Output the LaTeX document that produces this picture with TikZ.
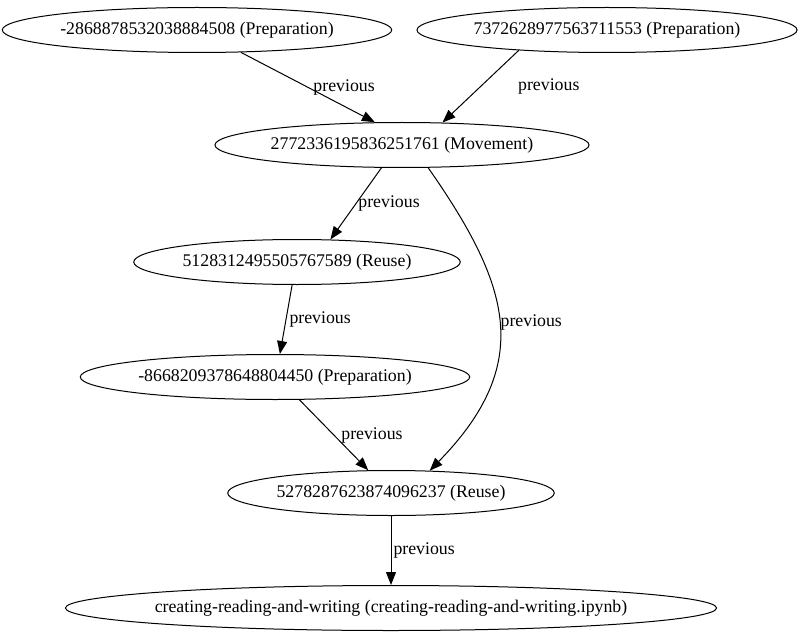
\documentclass[tikz,border=0pt]{standalone}
\usepackage{fontspec}
\setmainfont{Liberation Serif}
\usetikzlibrary{arrows.meta,positioning,shapes.geometric}

\begin{document}
\begin{tikzpicture}[x=1pt, y=-1pt,
    stage/.style={draw, ellipse, line width=1pt, inner xsep=1pt, inner ysep=0pt, minimum height=45pt, font=\fontsize{17.8}{20}\selectfont},
    prev/.style={-{Triangle[length=13pt,width=10pt]}, line width=1pt},
    lbl/.style={inner sep=0pt, font=\fontsize{17.8}{20}\selectfont}]
  \useasboundingbox (0,0) rectangle (805,639);
  \node[stage] (prepA) at (197,30) {-2868878532038884508 (Preparation)};
  \node[stage] (prepB) at (607,30) {7372628977563711553 (Preparation)};
  \node[stage] (move) at (402,145) {2772336195836251761 (Movement)};
  \node[stage] (reuseA) at (297,262) {5128312495505767589 (Reuse)};
  \node[stage] (prepC) at (275,377) {-8668209378648804450 (Preparation)};
  \node[stage] (reuseB) at (391,493) {5278287623874096237 (Reuse)};
  \node[stage, inner xsep=-6pt] (nb) at (391,608) {creating-reading-and-writing (creating-reading-and-writing.ipynb)};
  \draw[prev] (prepA.-27) -- node[lbl, right=5pt]{previous} (move.140);
  \draw[prev] (prepB.-167) -- node[lbl, right=37pt]{previous} (move.29);
  \draw[prev] (move.-132) -- node[lbl, right=2pt]{previous} (reuseA.34);
  \draw[prev] (move.-41) .. controls (510,285) and (535,363) .. node[lbl, right=1pt]{previous} (reuseB.30);
  \draw[prev] (reuseA.-102) -- node[lbl, right=3pt]{previous} (prepC.78);
  \draw[prev] (prepC.-43) -- node[lbl, right=7pt]{previous} (reuseB.135);
  \draw[prev] (reuseB.south) -- node[lbl, right=2pt]{previous} (nb.north);
\end{tikzpicture}
\end{document}
